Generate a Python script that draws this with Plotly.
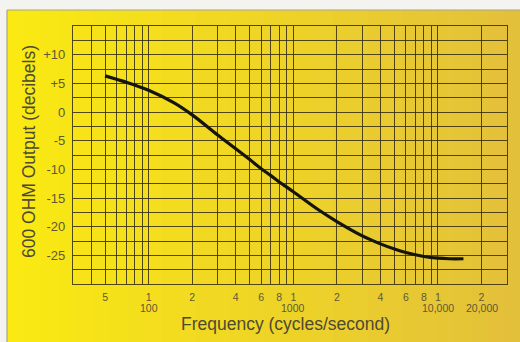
import math
import plotly.graph_objects as go

# ---- data ----
freq_hz = [50, 60, 70, 80, 100, 150, 200, 300, 400, 500, 600, 700, 800, 1000,
           1500, 2000, 3000, 4000, 5000, 6000, 8000, 10000, 12000, 15000]
output_db = [6.3, 5.7, 5.2, 4.7, 3.8, 1.6, -0.5, -4.0, -6.4, -8.3, -9.9, -11.1, -12.2, -13.9,
             -17.1, -19.1, -21.6, -23.0, -23.9, -24.5, -25.2, -25.5, -25.6, -25.6]

x_grid = [30, 40, 50, 60, 70, 80, 90, 100, 200, 300, 400, 500, 600, 700, 800, 900,
          1000, 2000, 3000, 4000, 5000, 6000, 7000, 8000, 9000, 10000, 20000, 30000]
x_labels = {50: "5", 100: "1", 200: "2", 400: "4", 600: "6", 800: "8",
            1000: "1", 2000: "2", 4000: "4", 6000: "6", 8000: "8",
            10000: "1", 20000: "2"}
x_decade_vals = [100, 1000, 10000, 20000]
x_decade_text = ["100", "1000", "10,000", "20,000"]

y_grid = [-30 + 2.5 * i for i in range(19)]
y_labels = {10: "+10", 5: "+5", 0: "0", -5: "-5", -10: "-10", -15: "-15", -20: "-20", -25: "-25"}

# ---- figure ----
W, H = 520, 342
ml, mr, mt, mb = 73, 13, 26, 58
pw, ph = W - ml - mr, H - mt - mb

def px_x(px):
    return (px - ml) / pw

def px_y(py):
    return (H - mb - py) / ph

fig = go.Figure()
fig.add_trace(go.Scatter(
    x=freq_hz, y=output_db, mode="lines",
    line=dict(color="#141410", width=3.2, shape="spline", smoothing=1.0),
    hoverinfo="skip", showlegend=False,
))

# background panel: horizontal yellow-to-gold gradient
shapes = []
c0 = (250, 233, 18)
c1 = (227, 192, 58)
n = 30
x_left, x_right = px_x(7), px_x(W + 2)
for i in range(n):
    t = i / (n - 1)
    col = tuple(int(round(c0[k] + (c1[k] - c0[k]) * t)) for k in range(3))
    xa = x_left + (x_right - x_left) * i / n
    xb = x_left + (x_right - x_left) * (i + 1) / n + 0.002
    shapes.append(dict(type="rect", xref="paper", yref="paper", x0=xa, x1=xb,
                       y0=px_y(H + 2), y1=px_y(10), line=dict(width=0),
                       fillcolor="rgb(%d,%d,%d)" % col, layer="below"))
shapes.append(dict(type="line", xref="paper", yref="paper", x0=px_x(7), x1=px_x(W + 2),
                   y0=px_y(10), y1=px_y(10), line=dict(color="#a8a58c", width=1.2), layer="below"))
shapes.append(dict(type="line", xref="paper", yref="paper", x0=px_x(7), x1=px_x(7),
                   y0=px_y(10), y1=px_y(H + 2), line=dict(color="#a8a58c", width=1.2), layer="below"))

tick_col = "#5e5836"
title_col = "#4e4a32"
grid_col = "rgba(52,44,16,0.85)"
font_family = "Liberation Sans, Arial, Helvetica, sans-serif"

annotations = []
for v, t in zip(x_decade_vals, x_decade_text):
    annotations.append(dict(x=math.log10(v), y=px_y(308), xref="x", yref="paper", text=t,
                            showarrow=False, xanchor="center", yanchor="middle",
                            font=dict(size=10.5, color=tick_col, family=font_family)))
annotations.append(dict(x=px_x(285), y=px_y(324), xref="paper", yref="paper",
                        text="Frequency (cycles/second)", showarrow=False,
                        xanchor="center", yanchor="middle",
                        font=dict(size=17.5, color=title_col, family=font_family)))
annotations.append(dict(x=px_x(29), y=px_y(152), xref="paper", yref="paper",
                        text="600 OHM Output (decibels)", showarrow=False, textangle=-90,
                        xanchor="center", yanchor="middle",
                        font=dict(size=17.5, color=title_col, family=font_family)))

fig.update_layout(
    width=W, height=H,
    margin=dict(l=ml, r=mr, t=mt, b=mb, pad=0),
    paper_bgcolor="#f3f3ef",
    plot_bgcolor="rgba(0,0,0,0)",
    shapes=shapes,
    annotations=annotations,
    xaxis=dict(
        type="log", range=[math.log10(30), math.log10(30000)],
        tickmode="array", tickvals=x_grid,
        ticktext=[x_labels.get(v, "") for v in x_grid],
        showgrid=True, gridcolor=grid_col, gridwidth=1,
        showline=True, linecolor=grid_col, linewidth=1.2, mirror=True,
        ticks="", zeroline=False, ticklabelstandoff=3,
        tickfont=dict(size=10.5, color=tick_col, family=font_family),
        fixedrange=True,
    ),
    yaxis=dict(
        range=[-30, 15],
        tickmode="array", tickvals=y_grid,
        ticktext=[y_labels.get(v, "") for v in y_grid],
        showgrid=True, gridcolor=grid_col, gridwidth=1,
        showline=True, linecolor=grid_col, linewidth=1.2, mirror=True,
        ticks="", zeroline=False, ticklabelstandoff=4,
        tickfont=dict(size=13, color=tick_col, family=font_family),
        fixedrange=True,
    ),
)

fig.write_html(
    "out.html",
    config={"displayModeBar": False},
    post_script="document.body.style.margin='0';document.body.style.padding='0';"
                "document.body.style.overflow='hidden';",
)
